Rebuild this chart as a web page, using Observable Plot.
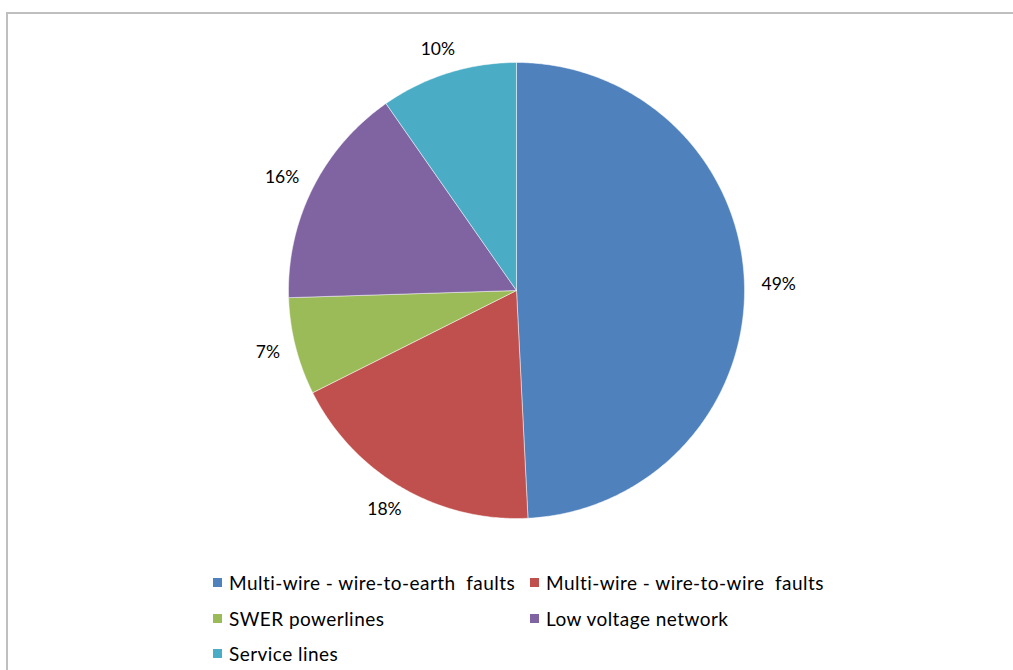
<!DOCTYPE html>
<html>
<head>
<meta charset="utf-8">
<script src="https://cdn.jsdelivr.net/npm/d3@7"></script>
<script src="https://cdn.jsdelivr.net/npm/@observablehq/plot@0.6"></script>
<style>
  html, body { margin: 0; padding: 0; background: #fff; }
  body { width: 1013px; height: 670px; overflow: hidden; position: relative; font-family: Lato, "Open Sans", sans-serif; }
  #frame { position: absolute; left: 6px; top: 12px; width: 1007px; height: 658px;
           border-top: 2px solid #bfbfbf; border-left: 2px solid #bfbfbf; box-sizing: border-box; }
  #legend { position: absolute; left: 205px; top: 551px; display: grid;
            grid-template-columns: 317px 320px; grid-auto-rows: 35.5px; font-size: 19px; letter-spacing: 0.45px; color: #000; }
  .item { display: flex; align-items: center; white-space: pre; }
  .sw { width: 9px; height: 9px; margin-right: 7px; flex: none; }
</style>
</head>
<body>
<div id="frame"><div id="chart"></div><div id="legend"></div></div>
<script>
const categories = [
  "Multi-wire - wire-to-earth  faults",
  "Multi-wire - wire-to-wire  faults",
  "SWER powerlines",
  "Low voltage network",
  "Service lines"
];
const values = [49.2, 18.4, 6.9, 15.8, 9.7];
const colors = ["#4F81BD", "#C0504D", "#9BBB59", "#8064A2", "#4BACC6"];

const R = 228; // pixel radius (1 data unit)
const total = d3.sum(values);
let cum = 0;
const slices = categories.map((c, i) => {
  const a0 = cum / total * 2 * Math.PI;
  cum += values[i];
  const a1 = cum / total * 2 * Math.PI;
  return {category: c, value: values[i], a0, a1};
});

// polygon points for each slice (angle measured clockwise from 12 o'clock)
const pts = [];
for (const s of slices) {
  pts.push({category: s.category, x: 0, y: 0});
  const n = Math.max(2, Math.ceil((s.a1 - s.a0) / 0.01));
  for (let k = 0; k <= n; k++) {
    const a = s.a0 + (s.a1 - s.a0) * k / n;
    pts.push({category: s.category, x: Math.sin(a), y: Math.cos(a)});
  }
  pts.push({category: s.category, x: 0, y: 0});
}
// outside-end labels: text box placed just outside the rim
const labels = slices.map(s => {
  const m = (s.a0 + s.a1) / 2;
  const text = d3.format(".0f")(s.value / total * 100) + "%";
  const ux = Math.sin(m), uy = Math.cos(m);
  const w = text.length * 11.5, h = 16, pad = 17;
  return {category: s.category,
          x: (ux * (R + pad) + ux * w / 2) / R,
          y: (uy * (R + pad) + uy * h / 2) / R,
          text};
});

const chart = Plot.plot({
  width: 1005,
  height: 546,
  marginLeft: 280,
  marginRight: 269,
  marginTop: 48,
  marginBottom: 42,
  x: {domain: [-1, 1], axis: null},
  y: {domain: [-1, 1], axis: null},
  color: {domain: categories, range: colors},
  style: {fontFamily: "Lato, 'Open Sans', sans-serif", background: "transparent", overflow: "visible"},
  marks: [
    Plot.line(pts, {x: "x", y: "y", z: "category", fill: "category", stroke: "#ffffff", strokeOpacity: 0.6, strokeWidth: 0.8, curve: "linear"}),
    Plot.text(labels, {x: "x", y: "y", text: "text", fontSize: 17.5, fill: "#000", textAnchor: "middle"})
  ]
});
document.getElementById("chart").appendChild(chart);

const legend = document.getElementById("legend");
categories.forEach((c, i) => {
  const it = document.createElement("div");
  it.className = "item";
  const sw = document.createElement("span");
  sw.className = "sw";
  sw.style.background = colors[i];
  it.appendChild(sw);
  it.appendChild(document.createTextNode(c));
  legend.appendChild(it);
});
</script>
</body>
</html>
